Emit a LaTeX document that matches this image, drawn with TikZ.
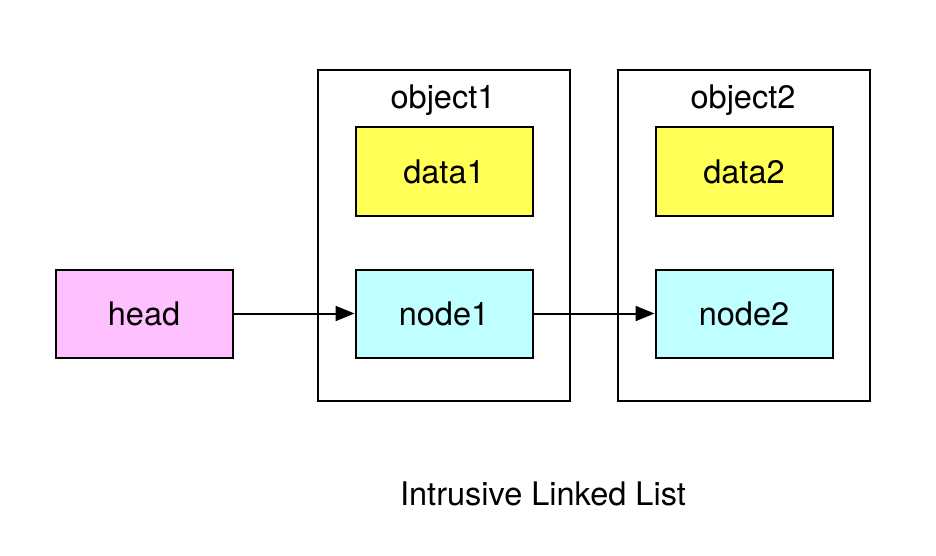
\documentclass[tikz,border=0pt]{standalone}
\usepackage{fontspec}
\setmainfont{TeX Gyre Heros}
\usetikzlibrary{arrows.meta,positioning}
\definecolor{pinkfill}{RGB}{255,192,255}
\definecolor{yellowfill}{RGB}{255,255,85}
\definecolor{cyanfill}{RGB}{192,255,255}
\begin{document}
\begin{tikzpicture}[x=1pt,y=-1pt,
  every node/.style={font=\fontsize{32.5}{38}\selectfont},
  box/.style={draw=black,line width=2pt,minimum width=177pt,minimum height=88pt,inner sep=0pt,anchor=north west},
  objbox/.style={draw=black,line width=2pt,minimum width=252pt,minimum height=330pt,inner sep=0pt,anchor=north west},
  link/.style={line width=2pt,-{Triangle[length=19pt,width=15pt]}}]
\useasboundingbox (0,0) rectangle (936,556);
\node[objbox] (obj1) at (316.5,69.5) {};
\node[objbox] (obj2) at (616.5,69.5) {};
\node (obj1lbl) at (443,100) {object1};
\node (obj2lbl) at (743,100) {object2};
\node[box,fill=yellowfill] (data1) at (354.5,126.5) {};
\node at (data1.center) {data1};
\node[box,fill=yellowfill] (data2) at (654.5,126.5) {};
\node at (data2.center) {data2};
\node[box,fill=cyanfill] (node1) at (354.5,268.5) {};
\node at (node1.center) {node1};
\node[box,fill=cyanfill] (node2) at (654.5,268.5) {};
\node at (node2.center) {node2};
\node[box,fill=pinkfill] (head) at (54.5,268.5) {};
\node at (head.center) {head};
\draw[link] (head.east) -- (node1.west);
\draw[link] (node1.east) -- (node2.west);
\node (caption) at (543,494) {Intrusive Linked List};
\end{tikzpicture}
\end{document}
